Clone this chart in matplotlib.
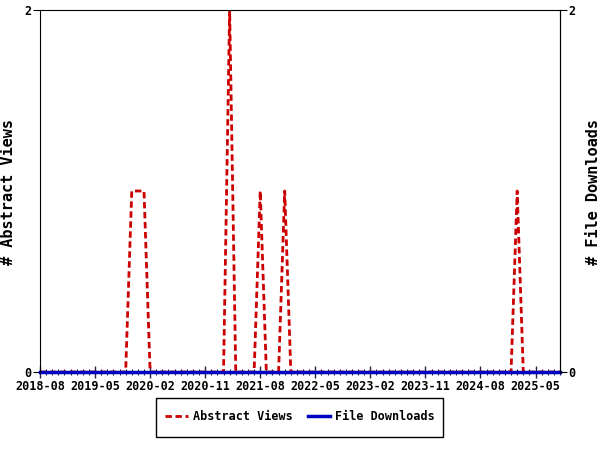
import numpy as np
import matplotlib.pyplot as plt
from matplotlib.patches import Rectangle

# monthly series, 2018-08 .. 2025-09
start_year, start_month = 2018, 8
n_months = 86

views = np.zeros(n_months)
# month index -> abstract views
view_counts = {15: 1, 16: 1, 17: 1,   # 2019-11 .. 2020-01
               31: 2,                 # 2021-03
               36: 1,                 # 2021-08
               40: 1,                 # 2021-12
               78: 1}                 # 2025-02
for k, v in view_counts.items():
    views[k] = v
downloads = np.zeros(n_months)

def month_label(i):
    m = start_month - 1 + i
    return "%d-%02d" % (start_year + m // 12, m % 12 + 1)

x = np.arange(n_months)
major = np.arange(0, n_months, 9)

plt.rcParams['font.family'] = ['DejaVu Sans Mono']
plt.rcParams['font.weight'] = 'bold'

fig = plt.figure(figsize=(6, 4.5), dpi=100)
ax = fig.add_axes([40/600, 1-372/450, 520/600, 362/450])
ax2 = ax.twinx()
for s in ('bottom', 'top', 'left'):
    ax2.spines[s].set_visible(False)
ax.spines['bottom'].set_visible(False)

red = '#cc0000'
blue = '#0000c0'
l1, = ax.plot(x, views, color=red, lw=2, dashes=(2.3, 1.3), label='Abstract Views')
l2, = ax.plot(x, downloads, color=blue, lw=2.5, label='File Downloads',
              clip_on=False, zorder=2.2)

ax.set_xlim(0, n_months - 1)
ax.set_ylim(0, 2)
ax2.set_ylim(0, 2)
ax.set_yticks([0, 2])
ax2.set_yticks([0, 2])
ax.set_xticks(major)
ax.set_xticklabels([month_label(i) for i in major])
ax.set_xticks(x, minor=True)
ax.tick_params(axis='x', which='major', direction='inout', length=9, width=1,
               color='#222244', labelsize=8.5, pad=1)
ax.tick_params(axis='x', which='minor', direction='inout', length=5, width=0.8,
               color='#222244')
ax.tick_params(axis='y', direction='out', length=5, labelsize=8.5, pad=1)
ax2.tick_params(axis='y', direction='out', length=5, labelsize=8.5, pad=1)

ax.set_ylabel('# Abstract Views', fontsize=11, fontweight='bold')
ax2.set_ylabel('# File Downloads', fontsize=11, fontweight='bold', rotation=90)
ax.yaxis.set_label_coords((16 - 40) / 520, 0.497)
ax2.yaxis.set_label_coords((586 - 40) / 520, 0.497)

leg = fig.legend(handles=[l1, l2], loc='center', bbox_to_anchor=(300/600, 1-417/450),
                 ncol=2, frameon=False, fontsize=8.5, handlelength=1.9,
                 handletextpad=0.4, columnspacing=1.3)
fig.add_artist(Rectangle((156/600, 1-437/450), 287/600, 39/450, transform=fig.transFigure,
                         fill=False, edgecolor='black', lw=1))

fig.savefig('out.png', dpi=100)
